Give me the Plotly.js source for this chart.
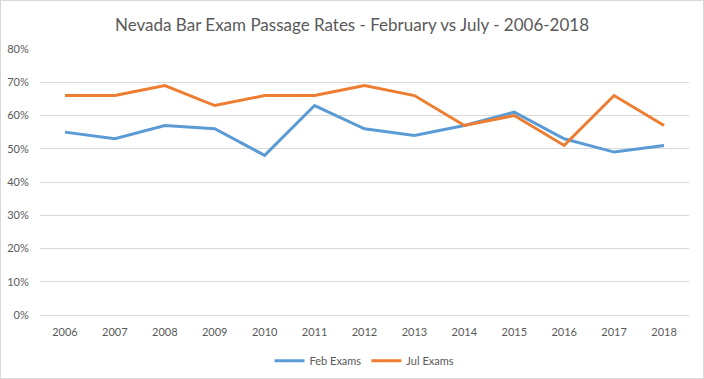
<!DOCTYPE html>
<html>
<head>
<meta charset="utf-8">
<script src="https://cdn.plot.ly/plotly-3.0.1.min.js"></script>
<style>
html,body{margin:0;padding:0;background:#fff;}
#chart{width:704px;height:379px;box-sizing:border-box;border:1px solid #d9d9d9;}
</style>
</head>
<body>
<div id="chart"></div>
<script>
const years = ['2006','2007','2008','2009','2010','2011','2012','2013','2014','2015','2016','2017','2018'];
const febRates = [0.55,0.53,0.57,0.56,0.48,0.63,0.56,0.54,0.57,0.61,0.53,0.49,0.51];
const julRates = [0.66,0.66,0.69,0.63,0.66,0.66,0.69,0.66,0.57,0.60,0.51,0.66,0.57];
const yTicks = [0,0.1,0.2,0.3,0.4,0.5,0.6,0.7,0.8];

const fontFam = 'Lato, "Open Sans", sans-serif';
const traces = [
  {x: years, y: febRates, name: 'Feb Exams', type: 'scatter', mode: 'lines',
   line: {color: '#5b9bd5', width: 3}},
  {x: years, y: julRates, name: 'Jul Exams', type: 'scatter', mode: 'lines',
   line: {color: '#ed7d31', width: 3}}
];
const layout = {
  width: 702, height: 377,
  margin: {l: 39, r: 14, t: 48, b: 63, autoexpand: false},
  paper_bgcolor: '#fff', plot_bgcolor: '#fff',
  font: {family: fontFam, color: '#595959', size: 11},
  title: {text: 'Nevada Bar Exam Passage Rates - February vs July - 2006-2018',
          font: {family: fontFam, size: 17, color: '#595959'},
          x: 0.5, xanchor: 'center', y: 0.937, yanchor: 'middle'},
  xaxis: {type: 'category', range: [-0.5, 12.5], showgrid: false, zeroline: false,
          showline: false, ticks: 'outside', ticklen: 7, tickcolor: 'rgba(0,0,0,0)',
          tickfont: {size: 11, color: '#595959'}, fixedrange: true, automargin: false},
  yaxis: {range: [0, 0.8], tickvals: yTicks, tickformat: '.0%', showgrid: true,
          gridcolor: '#d9d9d9', gridwidth: 1, zeroline: true, zerolinecolor: '#d9d9d9',
          zerolinewidth: 1, showline: false, ticks: 'outside', ticklen: 8,
          tickcolor: 'rgba(0,0,0,0)', tickfont: {size: 11, color: '#595959'}, fixedrange: true,
          automargin: false},
  showlegend: true,
  legend: {orientation: 'h', x: 0.5, xanchor: 'center', y: -0.172, yanchor: 'middle',
           font: {size: 11, color: '#595959'}, itemwidth: 30, tracegroupgap: 0}
};
Plotly.newPlot('chart', traces, layout, {displayModeBar: false, staticPlot: true});
</script>
</body>
</html>
